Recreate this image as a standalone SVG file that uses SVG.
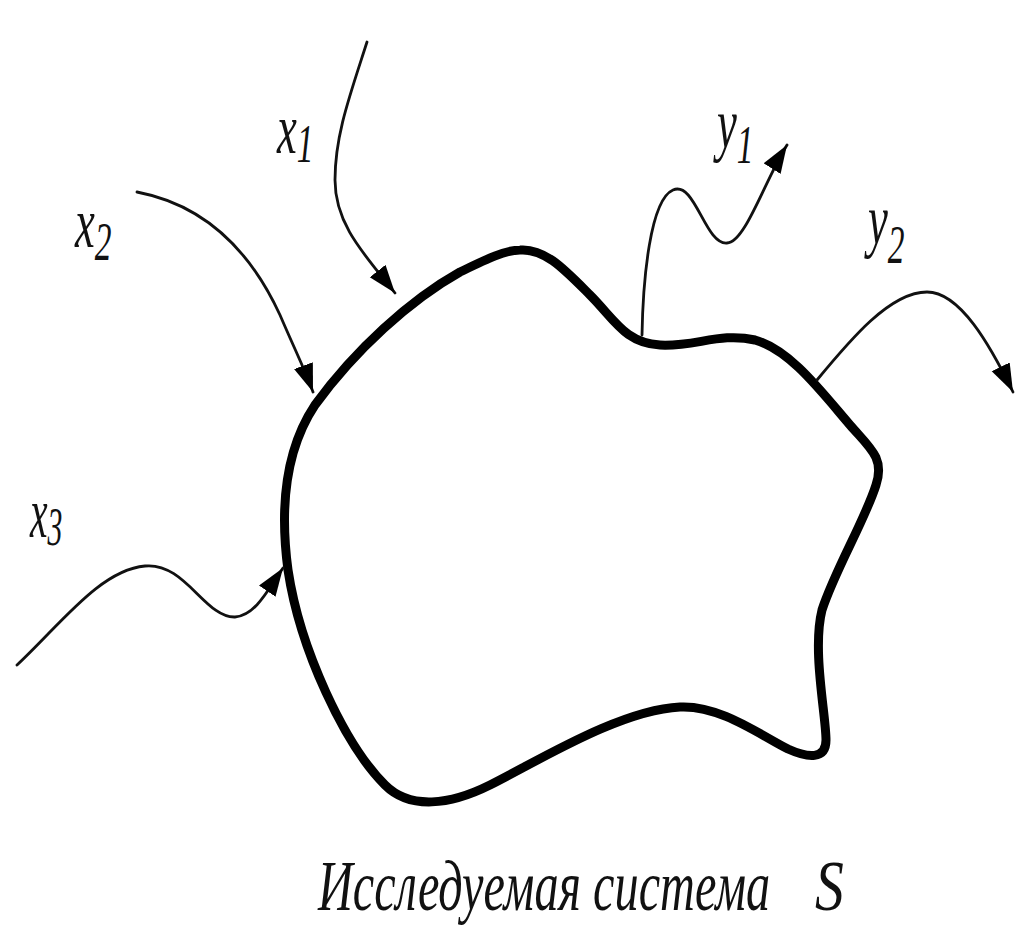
<svg xmlns="http://www.w3.org/2000/svg" width="1016" height="938" viewBox="0 0 1016 938">
<style>
.blob{fill:none;stroke:#000;stroke-width:9;stroke-linejoin:round}
.conn{fill:none;stroke:#111;stroke-width:2.8;stroke-linecap:round}
.lbl{font-family:"Liberation Serif","DejaVu Serif",serif;font-style:italic;font-size:72px;fill:#111}
.sub{font-size:54px}
.cap{font-family:"Liberation Serif","DejaVu Serif",serif;font-style:italic;font-size:72px;fill:#111}
</style>
<defs>
<marker id="ah" markerUnits="userSpaceOnUse" markerWidth="32" markerHeight="24" refX="28" refY="10" orient="auto">
<path d="M0,0 L28,10 L0,20 Z" fill="#000"/>
</marker>
</defs>
<rect width="1016" height="938" fill="#fff"/>
<g id="system-S">
<path class="blob" d="M520,250 C545,248 565,270 590,295 C615,320 625,343 660,345 C695,347 720,332 755,340 C790,350 820,390 850,425 C870,448 885,458 876,485 C865,520 835,570 822,610 C812,650 826,715 826,740 C826,760 808,758 788,749 C760,735 720,705 680,707 C620,710 540,760 490,785 C450,805 410,810 385,785 C345,745 300,650 288,570 C280,510 285,450 315,405 C355,350 410,300 460,272 C485,260 505,250 520,250 Z"/>
</g>
<g id="connectors">
<path class="conn" marker-end="url(#ah)" d="M367,42 C350,95 335,135 335,180 C335,225 365,255 395,293"/>
<path class="conn" marker-end="url(#ah)" d="M137,192 C205,205 250,250 280,315 C295,350 305,370 313,392"/>
<path class="conn" marker-end="url(#ah)" d="M17,665 C60,625 100,570 145,566 C185,562 205,618 235,617 C255,616 268,590 283,568"/>
<path class="conn" marker-end="url(#ah)" d="M642,335 C643,280 650,200 673,190 C695,180 705,245 727,243 C745,243 765,180 787,145"/>
<path class="conn" marker-end="url(#ah)" d="M817,380 C850,340 890,292 927,292 C960,292 990,345 1013,392"/>
</g>
<g id="label-x1" transform="translate(277,153) scale(0.62,1)"><text class="lbl" x="0" y="0">x<tspan class="sub" dy="9">1</tspan></text></g>
<g id="label-x2" transform="translate(75,247) scale(0.62,1)"><text class="lbl" x="0" y="0">x<tspan class="sub" dy="13">2</tspan></text></g>
<g id="label-x3" transform="translate(30,537) scale(0.55,1)"><text class="lbl" x="0" y="0">x<tspan class="sub" dy="8">3</tspan></text></g>
<g id="label-y1" transform="translate(717,148) scale(0.62,1)"><text class="lbl" x="0" y="0">y<tspan class="sub" dy="15">1</tspan></text></g>
<g id="label-y2" transform="translate(868,244) scale(0.62,1)"><text class="lbl" x="0" y="0">y<tspan class="sub" dy="19">2</tspan></text></g>
<g id="caption">
<g transform="translate(318,910) scale(0.66,1)"><text class="cap" x="0" y="0" textLength="685" lengthAdjust="spacingAndGlyphs">Исследуемая система</text></g>
<g transform="translate(815,910) scale(0.8,1)"><text class="cap" x="0" y="0">S</text></g>
</g>
</svg>
